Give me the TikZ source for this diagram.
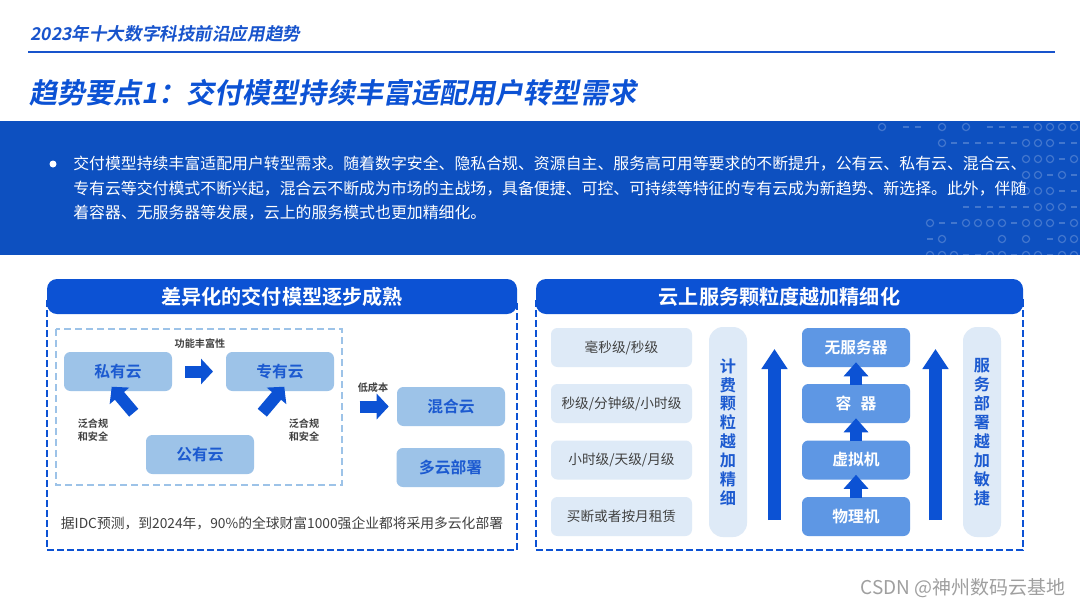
\documentclass[tikz,border=0pt]{standalone}
\usepackage{fontspec}
\setmainfont{Noto Sans CJK SC}[BoldFont={Noto Sans CJK SC Bold}]
\newfontfamily\slantbold{Noto Sans CJK SC Bold}[FakeSlant=0.18]
\usetikzlibrary{arrows.meta,calc}
\definecolor{deepblue}{RGB}{12,82,212}
\definecolor{bannerblue}{RGB}{13,80,192}
\definecolor{headblue}{RGB}{24,84,204}
\definecolor{boxblue}{RGB}{157,195,232}
\definecolor{boxtext}{RGB}{28,90,208}
\definecolor{midblue}{RGB}{94,151,228}
\definecolor{paleblue}{RGB}{222,234,247}
\definecolor{labelgray}{RGB}{64,64,64}
\newdimen\px \px=0.25mm

\begin{document}
\begin{tikzpicture}[x=0.25mm,y=-0.25mm,
  pill/.style={fill=deepblue, rounded corners=2.5mm, inner sep=0, minimum height=35\px,
    text=white, font=\bfseries\fontsize{14.3}{16}\selectfont},
  outerdash/.style={draw=deepblue, line width=0.5mm, dash pattern=on 1.75mm off 0.75mm},
  innerdash/.style={draw=boxblue, line width=0.5mm, dash pattern=on 1.75mm off 1mm},
  cloudbox/.style={fill=boxblue, rounded corners=1.6mm, inner sep=0, minimum width=108\px,
    minimum height=39\px, text=boxtext, font=\bfseries\fontsize{11.2}{13}\selectfont},
  tinylabel/.style={text=labelgray, inner sep=0, align=left,
    font=\bfseries\fontsize{7.2}{9}\selectfont},
  timebox/.style={fill=paleblue, rounded corners=1.6mm, inner sep=0, minimum width=141\px,
    minimum height=39\px, text=labelgray, font=\fontsize{9.7}{11}\selectfont},
  stackbox/.style={fill=midblue, rounded corners=1.6mm, inner sep=0, minimum width=108\px,
    minimum height=39\px, text=white, font=\bfseries\fontsize{11.2}{13}\selectfont},
  tallbox/.style={fill=paleblue, rounded corners=3.5mm, inner sep=0, minimum width=38\px,
    minimum height=210\px},
  vtext/.style={text=boxtext, inner sep=0, align=center,
    font=\bfseries\fontsize{11.5}{13.45}\selectfont},
  bannertext/.style={anchor=west, inner sep=0, text=white, font=\fontsize{11.3}{13}\selectfont},
  fatarrow/.style={draw=deepblue, line width=3mm, -{Triangle[width=6.25mm,length=3mm]}},
  uparrow/.style={draw=deepblue, line width=3mm, -{Triangle[width=6mm,length=3.5mm]}},
  longarrow/.style={draw=deepblue, line width=3.25mm, -{Triangle[width=6.25mm,length=5mm]}}]
\useasboundingbox (0,0) rectangle (1080,608);
\fill[white] (0,0) rectangle (1080,608);

% page header
\node[anchor=west, inner sep=0, text=headblue, font=\slantbold\fontsize{12.5}{14}\selectfont]
  (head) at (30,34) {2023年十大数字科技前沿应用趋势};
\draw[headblue, line width=0.4mm] (28,52) -- (1055,52);
\node[anchor=west, inner sep=0, text=deepblue, font=\slantbold\fontsize{20}{24}\selectfont]
  (title) at (29,93) {趋势要点1：交付模型持续丰富适配用户转型需求};

% banner
\fill[bannerblue] (0,121) rectangle (1080,255);
\begin{scope}
  \clip (0,121) rectangle (1080,255);
  \foreach \row [count=\r] in {
    {2,0,1,1,0,2,0,2,0,1,1,1,1,2,2,2,2},
    {0,0,0,0,0,2,1,1,1,1,1,1,2,2,2,1,1},
    {0,0,0,0,0,0,0,0,0,0,0,0,2,2,2,1,2},
    {0,0,0,0,0,0,0,0,0,0,0,0,2,2,1,2,1},
    {0,0,0,0,0,0,0,0,0,0,0,1,2,2,2,1,1},
    {0,0,0,0,0,0,0,1,1,1,1,1,1,2,2,2,1},
    {0,0,0,0,2,1,1,2,2,2,2,1,2,2,2,1,2},
    {0,0,0,0,1,2,0,0,0,0,2,0,2,0,1,2,2},
    {0,0,0,0,2,2,2,1,1,2,2,1,2,2,1,2,2}}
    \foreach \c [count=\k] in \row {
      \pgfmathsetmacro\cx{870+12*\k}
      \pgfmathsetmacro\cy{111+16*\r}
      \ifnum\c=1 \draw[white, opacity=0.22, line width=0.35mm] (\cx-3,\cy) -- (\cx+3,\cy); \fi
      \ifnum\c=2 \draw[white, opacity=0.22, line width=0.3mm] (\cx,\cy) circle (3.6); \fi
    };
\end{scope}
\fill[white] (53,164) circle (3.5);
\node[bannertext] (l1) at (73,164)
  {交付模型持续丰富适配用户转型需求。随着数字安全、隐私合规、资源自主、服务高可用等要求的不断提升，公有云、私有云、混合云、};
\node[bannertext] (l2) at (73,189)
  {专有云等交付模式不断兴起，混合云不断成为市场的主战场，具备便捷、可控、可持续等特征的专有云成为新趋势、新选择。此外，伴随};
\node[bannertext] (l3) at (73,213)
  {着容器、无服务器等发展，云上的服务模式也更加精细化。};

% left panel
\draw[outerdash] (47,300) rectangle (517,550);
\node[pill, minimum width=470\px] (lhead) at (282,296.5) {差异化的交付模型逐步成熟};
\draw[innerdash] (56,329) rectangle (342,485);
\node[cloudbox] (pri) at (118,371.5) {私有云};
\node[cloudbox] (ded) at (280,371.5) {专有云};
\node[cloudbox] (pub) at (200,454.5) {公有云};
\node[cloudbox] (hyb) at (451,406.5) {混合云};
\node[cloudbox] (mul) at (450.5,467.5) {多云部署};
\draw[fatarrow] ($(pri.east)!0.5!(ded.west)+(-14,0)$) -- ($(pri.east)!0.5!(ded.west)+(14,0)$);
\node[tinylabel] (rich) at (200,344) {功能丰富性};
\draw[fatarrow] ($(pub.north west)+(-12,-22)$) -- ($(pub.north west)+(-34,-48)$);
\node[tinylabel] (compl) at (93,430) {泛合规\\和安全};
\draw[fatarrow] ($(pub.north east)+(8,-22)$) -- ($(pub.north east)+(30,-48)$);
\node[tinylabel] (comp2) at (304,430) {泛合规\\和安全};
\draw[fatarrow] ($(hyb.west)+(-37,0)$) -- ($(hyb.west)+(-8,0)$);
\node[tinylabel] (cheap) at (373,388) {低成本};
\node[inner sep=0, text=labelgray, font=\fontsize{9.8}{12}\selectfont] (idc) at (282,523)
  {据IDC预测，到2024年，90\%的全球财富1000强企业都将采用多云化部署};

% right panel
\draw[outerdash] (536,300) rectangle (1023,550);
\node[pill, minimum width=487\px] (rhead) at (779.5,296.5) {云上服务颗粒度越加精细化};
\node[timebox] (t1) at (621.5,347.5) {毫秒级/秒级};
\node[timebox] (t2) at (621.5,403.5) {秒级/分钟级/小时级};
\node[timebox] (t3) at (621.5,460) {小时级/天级/月级};
\node[timebox] (t4) at (621.5,516.5) {买断或者按月租赁};
\node[tallbox] (bill) at (728,432) {};
\node[vtext] at (bill) {计\\费\\颗\\粒\\越\\加\\精\\细};
\draw[longarrow] (774.5,520) -- (774.5,349);
\node[stackbox] (s1) at (856,347.5) {无服务器};
\node[stackbox] (s2) at (856,403.5) {容\hspace{0.6em}器};
\node[stackbox] (s3) at (856,460) {虚拟机};
\node[stackbox] (s4) at (856,516.5) {物理机};
\foreach \a/\b in {s2/s1,s3/s2,s4/s3}
  \draw[uparrow] ($(\a.north)+(0,1)$) -- ($(\b.south)+(0,-5)$);
\draw[longarrow] (935.5,520) -- (935.5,349);
\node[tallbox] (deploy) at (982,432) {};
\node[vtext] at (deploy) {服\\务\\部\\署\\越\\加\\敏\\捷};

% watermark
\node[anchor=east, inner sep=0, text=gray!75, font=\fontsize{13.5}{15}\selectfont] (mark) at (1066,588)
  {CSDN @神州数码云基地};
\end{tikzpicture}
\end{document}
